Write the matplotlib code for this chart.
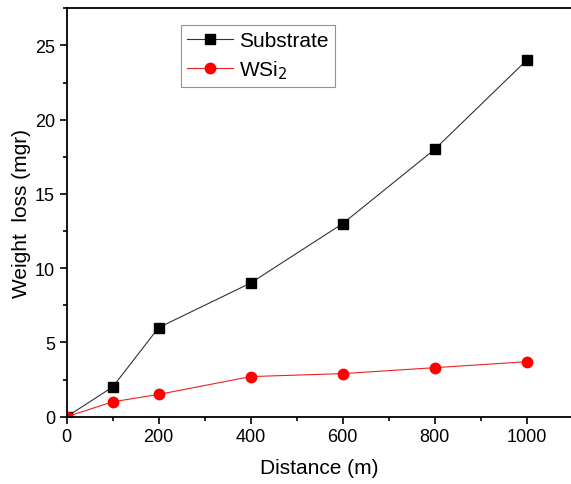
import matplotlib
matplotlib.use("Agg")
import matplotlib.pyplot as plt
from matplotlib.ticker import MultipleLocator

plt.rcParams['font.family'] = ['Liberation Sans', 'DejaVu Sans']

# data
distance = [0, 100, 200, 400, 600, 800, 1000]
substrate = [0, 2, 6, 9, 13, 18, 24]
wsi2 = [0, 1, 1.5, 2.7, 2.9, 3.3, 3.7]

fig = plt.figure(figsize=(5.71, 4.85), dpi=100)
# right edge runs just past the figure, like the cropped original
ax = fig.add_axes([0.1168, 0.1388, 0.886, 0.842])

ax.plot(distance, substrate, color='#333333', lw=0.8, marker='s', ms=7,
        mfc='black', mec='black', label='Substrate')
ax.plot(distance, wsi2, color='#ee2222', lw=0.8, marker='o', ms=7.5,
        mfc='#ff0000', mec='#ff0000', label='WSi$_2$')

ax.set_xlim(0, 1100)
ax.set_ylim(0, 27.5)
ax.xaxis.set_major_locator(MultipleLocator(200))
ax.xaxis.set_minor_locator(MultipleLocator(100))
ax.yaxis.set_major_locator(MultipleLocator(5))
ax.yaxis.set_minor_locator(MultipleLocator(2.5))
ax.tick_params(which='major', direction='out', length=5, width=1.2, labelsize=13)
ax.tick_params(which='minor', direction='out', length=3, width=1.2)
for s in ax.spines.values():
    s.set_linewidth(1.3)

ax.set_xlabel('Distance (m)', fontsize=15, labelpad=9)
ax.set_ylabel('Weight  loss (mgr)', fontsize=15, labelpad=3)

leg = ax.legend(loc='upper left', bbox_to_anchor=(0.225, 0.96), fontsize=15,
                frameon=True, fancybox=False, edgecolor='#777777',
                borderpad=0.3, handlelength=2.2, labelspacing=0.4,
                handletextpad=0.3, borderaxespad=0)
leg.get_frame().set_linewidth(0.8)

fig.savefig('out.png', dpi=100)
